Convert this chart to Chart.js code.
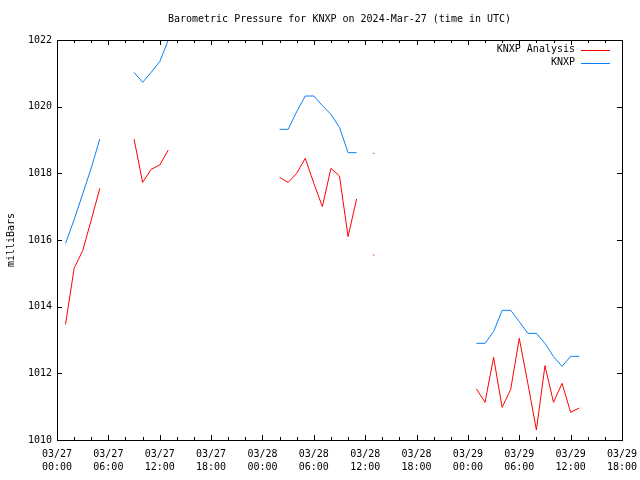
<!DOCTYPE html>
<html>
<head>
<meta charset="utf-8">
<script src="https://cdn.jsdelivr.net/npm/chart.js@4/dist/chart.umd.min.js"></script>
<style>
  html, body { margin: 0; padding: 0; background: #fff; }
  canvas { display: block; }
</style>
</head>
<body>
<canvas id="pressureChart" width="640" height="480"></canvas>
<script>
'use strict';

// hours since 03/27 00:00 UTC
const hours = [
  0, 1, 2, 3, 4, 5, 6, 7, 8, 9, 10, 11, 12, 13, 14, 15, 16, 17, 18, 19,
  20, 21, 22, 23, 24, 25, 26, 27, 28, 29, 30, 31, 32, 33, 34, 35, 36, 37, 38, 39,
  40, 41, 42, 43, 44, 45, 46, 47, 48, 49, 50, 51, 52, 53, 54, 55, 56, 57, 58, 59,
  60, 61
];

const analysis = [
  null, 1013.47, 1015.15, 1015.68, 1016.6, 1017.55, null, null, null, 1019.03,
  1017.73, 1018.12, 1018.25, 1018.7, null, null, null, null, null, null,
  null, null, null, null, null, null, 1017.88, 1017.73, 1018.0, 1018.45,
  1017.7, 1017.0, 1018.15, 1017.92, 1016.1, 1017.23, null, 1015.55, null, null,
  null, null, null, null, null, null, null, null, null, 1011.53,
  1011.13, 1012.48, 1010.98, 1011.52, 1013.05, 1011.7, 1010.3, 1012.23, 1011.13, 1011.7,
  1010.83, 1010.96
];

const observed = [
  null, 1015.9, 1016.61, 1017.38, 1018.16, 1019.03, null, null, null, 1021.03,
  1020.73, 1021.03, 1021.35, 1022.0, null, null, null, null, null, null,
  null, null, null, null, null, null, 1019.32, 1019.32, 1019.85, 1020.32,
  1020.32, 1020.03, 1019.77, 1019.38, 1018.62, 1018.62, null, 1018.6, null, null,
  null, null, null, null, null, null, null, null, null, 1012.9,
  1012.9, 1013.25, 1013.89, 1013.89, 1013.55, 1013.2, 1013.2, 1012.9, 1012.5, 1012.21,
  1012.51, 1012.51
];

const xTickLabels = [
  ['03/27', '00:00'], ['03/27', '06:00'], ['03/27', '12:00'], ['03/27', '18:00'],
  ['03/28', '00:00'], ['03/28', '06:00'], ['03/28', '12:00'], ['03/28', '18:00'],
  ['03/29', '00:00'], ['03/29', '06:00'], ['03/29', '12:00'], ['03/29', '18:00']
];
const yTickLabels = ['1010', '1012', '1014', '1016', '1018', '1020', '1022'];

const titleText = 'Barometric Pressure for KNXP on 2024-Mar-27 (time in UTC)';
const yTitle = 'milliBars';
const FONT = '"DejaVu Sans Mono", monospace';

const toPoints = vals => hours.map((h, i) => ({ x: h, y: vals[i] }));

// a lone reading between gaps still shows as a single dot
const loneDot = ctx => {
  const d = ctx.dataset.data;
  const i = ctx.dataIndex;
  if (d[i].y == null) return 0;
  const prev = i > 0 ? d[i - 1].y : null;
  const next = i < d.length - 1 ? d[i + 1].y : null;
  return (prev == null && next == null) ? 0.8 : 0;
};

const framePlugin = {
  id: 'frame',
  afterDraw(chart) {
    const { ctx, chartArea: a, scales: { x, y } } = chart;
    ctx.save();
    ctx.strokeStyle = '#000';
    ctx.lineWidth = 1;
    ctx.strokeRect(a.left + 0.5, a.top + 0.5, a.right - a.left, a.bottom - a.top);

    ctx.beginPath();
    for (let h = 0; h <= 66; h += 2) {
      const px = Math.round(x.getPixelForValue(h)) + 0.5;
      const len = h % 6 === 0 ? 5 : 3;
      ctx.moveTo(px, a.bottom); ctx.lineTo(px, a.bottom - len);
      ctx.moveTo(px, a.top);    ctx.lineTo(px, a.top + len);
    }
    for (let v = 1010; v <= 1022; v += 2) {
      const py = Math.round(y.getPixelForValue(v)) + 0.5;
      ctx.moveTo(a.left, py);  ctx.lineTo(a.left + 5, py);
      ctx.moveTo(a.right, py); ctx.lineTo(a.right - 5, py);
    }
    ctx.stroke();

    ctx.fillStyle = '#000';
    ctx.font = '10px ' + FONT;
    ctx.textBaseline = 'middle';
    ctx.textAlign = 'center';
    ctx.fillText(titleText, (a.left + a.right) / 2, 19);

    ctx.save();
    ctx.translate(11, (a.top + a.bottom) / 2);
    ctx.rotate(-Math.PI / 2);
    ctx.fillText(yTitle, 0, 0);
    ctx.restore();

    // key, top right inside the plot
    ctx.textAlign = 'right';
    chart.data.datasets.forEach((ds, i) => {
      const ry = a.top + 9.5 + i * 13;
      ctx.fillStyle = '#000';
      ctx.fillText(ds.label, a.right - 47, ry);
      ctx.strokeStyle = ds.borderColor;
      ctx.beginPath();
      ctx.moveTo(a.right - 41, Math.round(ry) + 0.5);
      ctx.lineTo(a.right - 12, Math.round(ry) + 0.5);
      ctx.stroke();
    });
    ctx.restore();
  }
};

new Chart(document.getElementById('pressureChart'), {
  type: 'line',
  data: {
    datasets: [
      {
        label: 'KNXP Analysis',
        data: toPoints(analysis),
        borderColor: '#ff0000',
        backgroundColor: '#ff0000',
        borderWidth: 1,
        pointRadius: loneDot,
        pointStyle: 'rect',
        pointBorderWidth: 0,
        spanGaps: false,
        tension: 0
      },
      {
        label: 'KNXP',
        data: toPoints(observed),
        borderColor: '#0a80f5',
        backgroundColor: '#0a80f5',
        borderWidth: 1,
        pointRadius: loneDot,
        pointStyle: 'rect',
        pointBorderWidth: 0,
        spanGaps: false,
        tension: 0
      }
    ]
  },
  options: {
    responsive: false,
    devicePixelRatio: 1,
    animation: false,
    layout: { padding: { top: 40, right: 18, left: 0, bottom: 0 } },
    plugins: {
      legend: { display: false },
      title: { display: false },
      tooltip: { enabled: false }
    },
    scales: {
      x: {
        type: 'linear',
        min: 0,
        max: 66,
        grid: { display: false, drawTicks: false },
        border: { display: false },
        ticks: {
          stepSize: 6,
          autoSkip: false,
          maxRotation: 0,
          padding: 8,
          color: '#000',
          font: { family: FONT, size: 10, lineHeight: 1.3 },
          callback: (v, i) => xTickLabels[i]
        },
        afterFit: s => { s.height = 40; s.paddingLeft = 0; s.paddingRight = 0; }
      },
      y: {
        min: 1010,
        max: 1022,
        grid: { display: false, drawTicks: false },
        border: { display: false },
        ticks: {
          stepSize: 2,
          padding: 5,
          color: '#000',
          font: { family: FONT, size: 10 },
          callback: (v, i) => yTickLabels[i]
        },
        afterFit: s => { s.width = 57; s.paddingTop = 0; s.paddingBottom = 0; }
      }
    }
  },
  plugins: [framePlugin]
});
</script>
</body>
</html>
